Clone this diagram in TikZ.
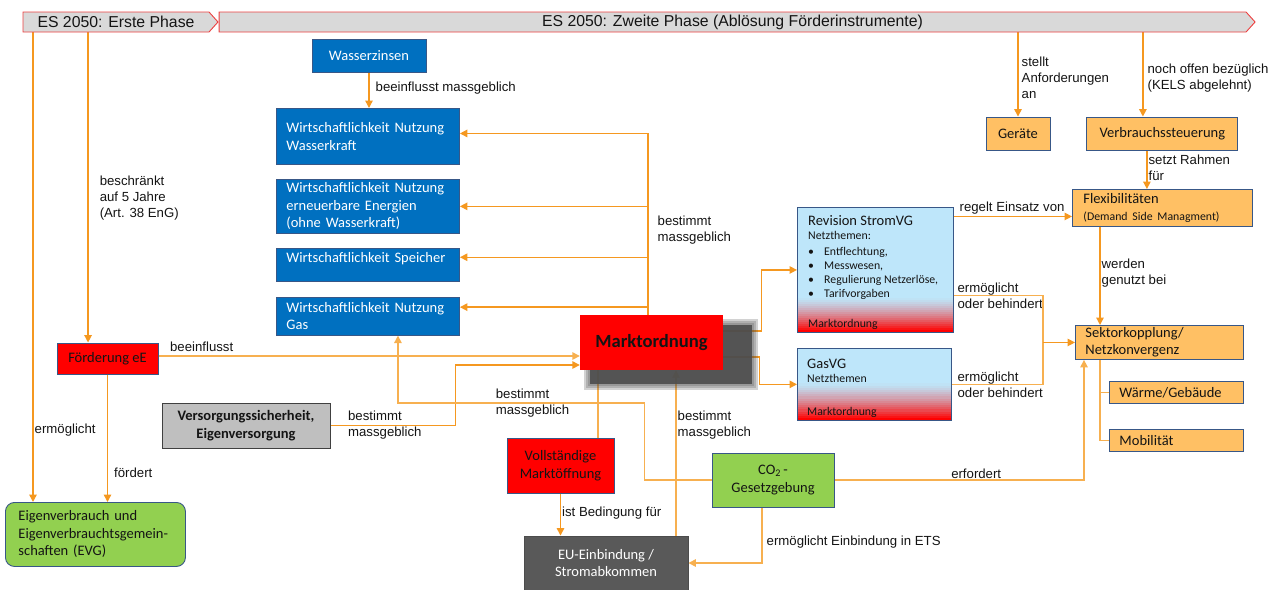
\documentclass[tikz,border=0pt]{standalone}
\usepackage{fontspec}
\setmainfont{Liberation Sans}
\newfontfamily\calibri{Carlito}
\usepackage{tikz}
\usetikzlibrary{shapes.symbols, arrows.meta, positioning, backgrounds}
\definecolor{lineorange}{RGB}{245, 152, 32}
\definecolor{paleorange}{RGB}{247, 176, 80}
\definecolor{boxblue}{RGB}{0, 112, 192}
\definecolor{boxborder}{RGB}{56, 87, 135}
\definecolor{boxorange}{RGB}{255, 192, 100}
\definecolor{boxgreen}{RGB}{146, 208, 80}
\definecolor{boxgray}{RGB}{191, 191, 191}
\definecolor{eugray}{RGB}{89, 89, 89}
\definecolor{shadowgray}{RGB}{77, 77, 77}
\definecolor{stromblue}{RGB}{190, 230, 250}
\definecolor{bannergray}{RGB}{217, 217, 217}
\definecolor{bannerred}{RGB}{236, 64, 64}
\definecolor{darktext}{RGB}{20, 20, 20}

\newcommand\lblfont{\fontsize{13.2}{16}\selectfont}
\newcommand\boxfont{\calibri\fontsize{14.5}{17.5}\selectfont}
\newcommand\smallboxfont{\calibri\fontsize{11.8}{14}\selectfont}
\newcommand\bannerfont{\fontsize{15.8}{18}\selectfont}

\begin{document}
\begin{tikzpicture}[
    x=1pt, y=-1pt,
    node distance=14pt,
    box/.style={rectangle, draw=boxborder, line width=0.9pt, inner xsep=10pt, inner ysep=0pt,
                font=\boxfont, align=center, text=darktext},
    bluebox/.style={box, fill=boxblue, text=white, text width=163pt, align=left},
    orangebox/.style={box, fill=boxorange, minimum height=33pt},
    netzbox/.style={box, fill=stromblue, path picture={
        \foreach \i in {1,...,17}{
          \pgfmathsetmacro\pct{100*(\i/17)^1.4}
          \fill[red!\pct!stromblue] ([yshift={#1*(18-\i)/17}]path picture bounding box.south west)
            rectangle ([yshift={#1*(17-\i)/17}]path picture bounding box.south east);}}},
    banner/.style={signal, signal to=east, signal from=nowhere, signal pointer angle=96,
                   fill=bannergray, draw=bannerred, line width=0.9pt, minimum height=20pt,
                   inner sep=0pt, font=\bannerfont, text=darktext},
    lbl/.style={font=\lblfont, inner sep=1pt, align=left, text=darktext},
    line/.style={lineorange, line width=1.4pt},
    arrow/.style={line, -{Triangle[length=7.5pt, width=7.5pt]}}
]
\useasboundingbox (0,0) rectangle (1269,589);

% Phasen
\node[banner, minimum width=195pt] (es1) at (116,22) {ES 2050: Erste Phase};
\node[banner, minimum width=1036pt, right=0pt of es1] (es2) {ES 2050: Zweite Phase (Ablösung Förderinstrumente)};

% Wirtschaftlichkeit
\node[box, fill=boxblue, text=white, minimum width=114pt, minimum height=33pt] (wz) at (369,55.5) {Wasserzinsen};
\node[bluebox, minimum height=56pt, anchor=north west] (wnwk) at (276,108) {Wirtschaftlichkeit Nutzung\\Wasserkraft};
\node[bluebox, minimum height=54pt, below=of wnwk] (wnee) {Wirtschaftlichkeit Nutzung\\erneuerbare Energien\\(ohne Wasserkraft)};
\node[bluebox, minimum height=33pt, text depth=14pt, below=of wnee] (wsp) {Wirtschaftlichkeit Speicher};
\node[bluebox, minimum height=38pt, below=15pt of wsp] (wngas) {Wirtschaftlichkeit Nutzung\\Gas};

% Marktordnung mit Schatten
\coordinate (mopos) at (651.5,342.5);
\foreach \d in {6,4,2}
  \fill[shadowgray, opacity=0.25] ([shift={(-61.5-\d,-17.5-\d)}]mopos) rectangle ([shift={(100.5+\d,41.5+\d)}]mopos);
\fill[shadowgray, opacity=0.9] ([shift={(-61.5,-17.5)}]mopos) rectangle ([shift={(100.5,41.5)}]mopos);
\node[rectangle, fill=red, minimum width=143pt, minimum height=55pt, text=darktext,
      font=\calibri\bfseries\fontsize{18.6}{20}\selectfont] (mo) at (mopos) {Marktordnung};

% Links
\node[box, fill=red, minimum width=101pt, minimum height=31pt] (foe) at (107.5,358.5) {Förderung eE};
\node[box, fill=boxgreen, rounded corners=9pt, minimum height=64pt, text width=154pt, inner xsep=13pt,
      align=left, anchor=north west] (evg) at (5,502) {Eigenverbrauch und\\Eigenverbrauchtsgemein-\\schaften (EVG)};
\node[box, fill=boxgray, draw=black!75, font=\boxfont\bfseries, minimum width=168pt, minimum height=45pt] (vss) at (246,425.5) {Versorgungssicherheit,\\Eigenversorgung};

% Unten
\node[box, fill=red, minimum width=107pt, minimum height=55pt] (vmo) at (560.5,465.5) {Vollständige\\Marktöffnung};
\node[box, fill=eugray, draw=black!70, text=white, minimum width=164pt, minimum height=54pt] (eu) at (606,563) {EU-Einbindung /\\Stromabkommen};
\node[box, fill=boxgreen, minimum width=122pt, minimum height=54pt] (co2) at (773,480) {CO\textsubscript{2}\,-\\Gesetzgebung};

% Netzthemen
\node[netzbox=34pt, minimum width=156pt, minimum height=125pt, anchor=north west] (svg) at (797,207) {};
\node[anchor=north west, inner sep=0pt, font=\smallboxfont, align=left, text=darktext] (svgtext) at ([shift={(11,8)}]svg.north west)
  {{\boxfont Revision StromVG}\\ Netzthemen:\\[2pt]
   \makebox[16pt][l]{\textbullet}Entflechtung,\\
   \makebox[16pt][l]{\textbullet}Messwesen,\\
   \makebox[16pt][l]{\textbullet}Regulierung Netzerlöse,\\
   \makebox[16pt][l]{\textbullet}Tarifvorgaben};
\node[anchor=south west, inner sep=0pt, font=\smallboxfont, text=darktext] (svgmo) at ([shift={(11,-3.5)}]svg.south west) {Marktordnung};
\node[netzbox=37pt, minimum width=154pt, minimum height=72pt, below right=15pt and 0pt of svg.south west] (gvg) {};
\node[anchor=north west, inner sep=0pt, font=\smallboxfont, align=left, text=darktext] (gvgtext) at ([shift={(10,11)}]gvg.north west)
  {{\boxfont GasVG}\\ Netzthemen};
\node[anchor=south west, inner sep=0pt, font=\smallboxfont, text=darktext] (gvgmo) at ([shift={(10,-3.5)}]gvg.south west) {Marktordnung};

% Rechts
\node[orangebox, minimum width=64pt] (ger) at (1018,133.5) {Geräte};
\node[orangebox, minimum width=151pt, right=36pt of ger] (vst) {Verbrauchssteuerung};
\node[orangebox, minimum height=37pt, text width=158pt, inner xsep=11pt, align=left, anchor=north west] (flex) at (1072,189)
  {Flexibilitäten\\{\smallboxfont (Demand Side Managment)}};
\node[orangebox, minimum height=34pt, text width=148pt, align=left, anchor=north west] (sek) at (1075,325) {Sektorkopplung/\\Netzkonvergenz};
\node[orangebox, minimum height=22pt, text width=114pt, align=left, anchor=north west] (waerme) at (1109,381) {Wärme/Gebäude};
\node[orangebox, minimum height=22pt, text width=114pt, align=left, below=25pt of waerme] (mob) {Mobilität};

% Pfeile
\begin{scope}[on background layer]
\coordinate (evgin) at ([xshift=28pt]evg.north west);
\draw[arrow] (es1.south -| evgin) -- (evgin) node[lbl, pos=0.847, anchor=west] {ermöglicht};
\coordinate (foein) at ([xshift=31.5pt]foe.north west);
\draw[arrow] (es1.south -| foein) -- (foein) node[lbl, pos=0.534, anchor=west, xshift=10pt] {beschränkt\\auf 5 Jahre\\(Art. 38 EnG)};
\draw[arrow] (foe.south) -- (foe.south |- evg.north) node[lbl, pos=0.77, anchor=west, xshift=5pt] {fördert};
\draw[arrow, paleorange] ([yshift=2.5pt]foe.east) -- ([yshift=2.5pt]foe.east -| mo.west)
  node[lbl, pos=0, anchor=south west, xshift=10pt, yshift=3pt] {beeinflusst};

\draw[arrow] (vss.east) -- ++(125,0) node[lbl, pos=0.128, anchor=west] {bestimmt\\massgeblich} |- ([yshift=-22.5pt]mo.west);
\draw[arrow, paleorange] (co2.west) -- ++(-67,0) -- ++(0,-77)
  -| node[lbl, pos=0.305, anchor=west] {bestimmt\\massgeblich} ([xshift=30pt]wngas.south);
\draw[line, paleorange] ([xshift=37.5pt]vmo.north) -- ([xshift=37.5pt]vmo.north |- mo.south);
\draw[arrow, paleorange] ([xshift=70pt]eu.north) -- ([xshift=70pt]eu.north |- mo.south)
  node[lbl, pos=0.67, anchor=west] {bestimmt\\massgeblich};
\draw[arrow] (vmo.south) -- (vmo.south |- eu.north) node[lbl, pos=0.47, anchor=west] {ist Bedingung für};
\draw[arrow, paleorange] ([xshift=-11pt]co2.south) |- (eu.east)
  node[lbl, pos=0.31, anchor=west, xshift=3pt] {ermöglicht Einbindung in ETS};
\draw[arrow, paleorange] (co2.east) -| ([xshift=9pt]sek.south west) node[lbl, pos=0.284, anchor=south] {erfordert};

\draw[arrow] (wz.south) -- (wz.south |- wnwk.north) node[lbl, pos=0.44, anchor=west, xshift=5pt] {beeinflusst massgeblich};
\coordinate (motop) at ([xshift=-3.5pt]mo.north);
\draw[arrow] (motop) |- ([yshift=3pt]wnwk.east) node[lbl, pos=0.234, anchor=west, xshift=8pt] {bestimmt\\massgeblich};
\draw[arrow] (motop) |- (wnee.east);
\draw[arrow] (motop) |- ([yshift=7.5pt]wsp.east);
\draw[arrow] (motop) |- ([yshift=9pt]wngas.east);

\draw[arrow] ([yshift=11.5pt]mo.east) -- ++(38,0) |- (svg.west);
\draw[arrow] ([yshift=-14.5pt]mo.east) -- ++(36,0) |- (gvg.west);
\draw[arrow] ([yshift=53.5pt]svg.east) -- ([yshift=53.5pt]svg.east -| flex.west)
  node[lbl, pos=0, anchor=south west, xshift=4pt, yshift=1pt] {regelt Einsatz von};
\draw[line, paleorange] ([yshift=-25.5pt]svg.east) -- ++(89,0) coordinate (brtop)
  node[lbl, pos=0, anchor=west, xshift=2pt] {ermöglicht\\oder behindert};
\draw[line, paleorange] (gvg.east) -| (brtop) node[lbl, pos=0, anchor=west, xshift=4pt] {ermöglicht\\oder behindert};
\draw[arrow] (brtop |- sek.west) -- (sek.west);

\draw[arrow] (es2.south -| ger.north) -- (ger.north) node[lbl, pos=0.54, anchor=west, xshift=2pt] {stellt\\Anforderungen\\an};
\draw[arrow] ([xshift=-19.5pt]es2.south -| vst.north) -- ([xshift=-19.5pt]vst.north)
  node[lbl, pos=0.54, anchor=west, xshift=3pt] {noch offen bezüglich\\(KELS abgelehnt)};
\draw[arrow] ([xshift=-15.5pt]vst.south) -- ([xshift=-15.5pt]vst.south |- flex.north)
  node[lbl, pos=0.45, anchor=west] {setzt Rahmen\\für};
\draw[arrow] ([xshift=28pt]flex.south west) -- ([xshift=28pt]flex.south west |- sek.north)
  node[lbl, pos=0.475, anchor=west] {werden\\genutzt bei};
\draw[line, paleorange] ([xshift=25pt]sek.south west) |- (waerme.west);
\draw[line, paleorange] ([xshift=25pt]sek.south west) |- (mob.west);
\end{scope}

\end{tikzpicture}
\end{document}
